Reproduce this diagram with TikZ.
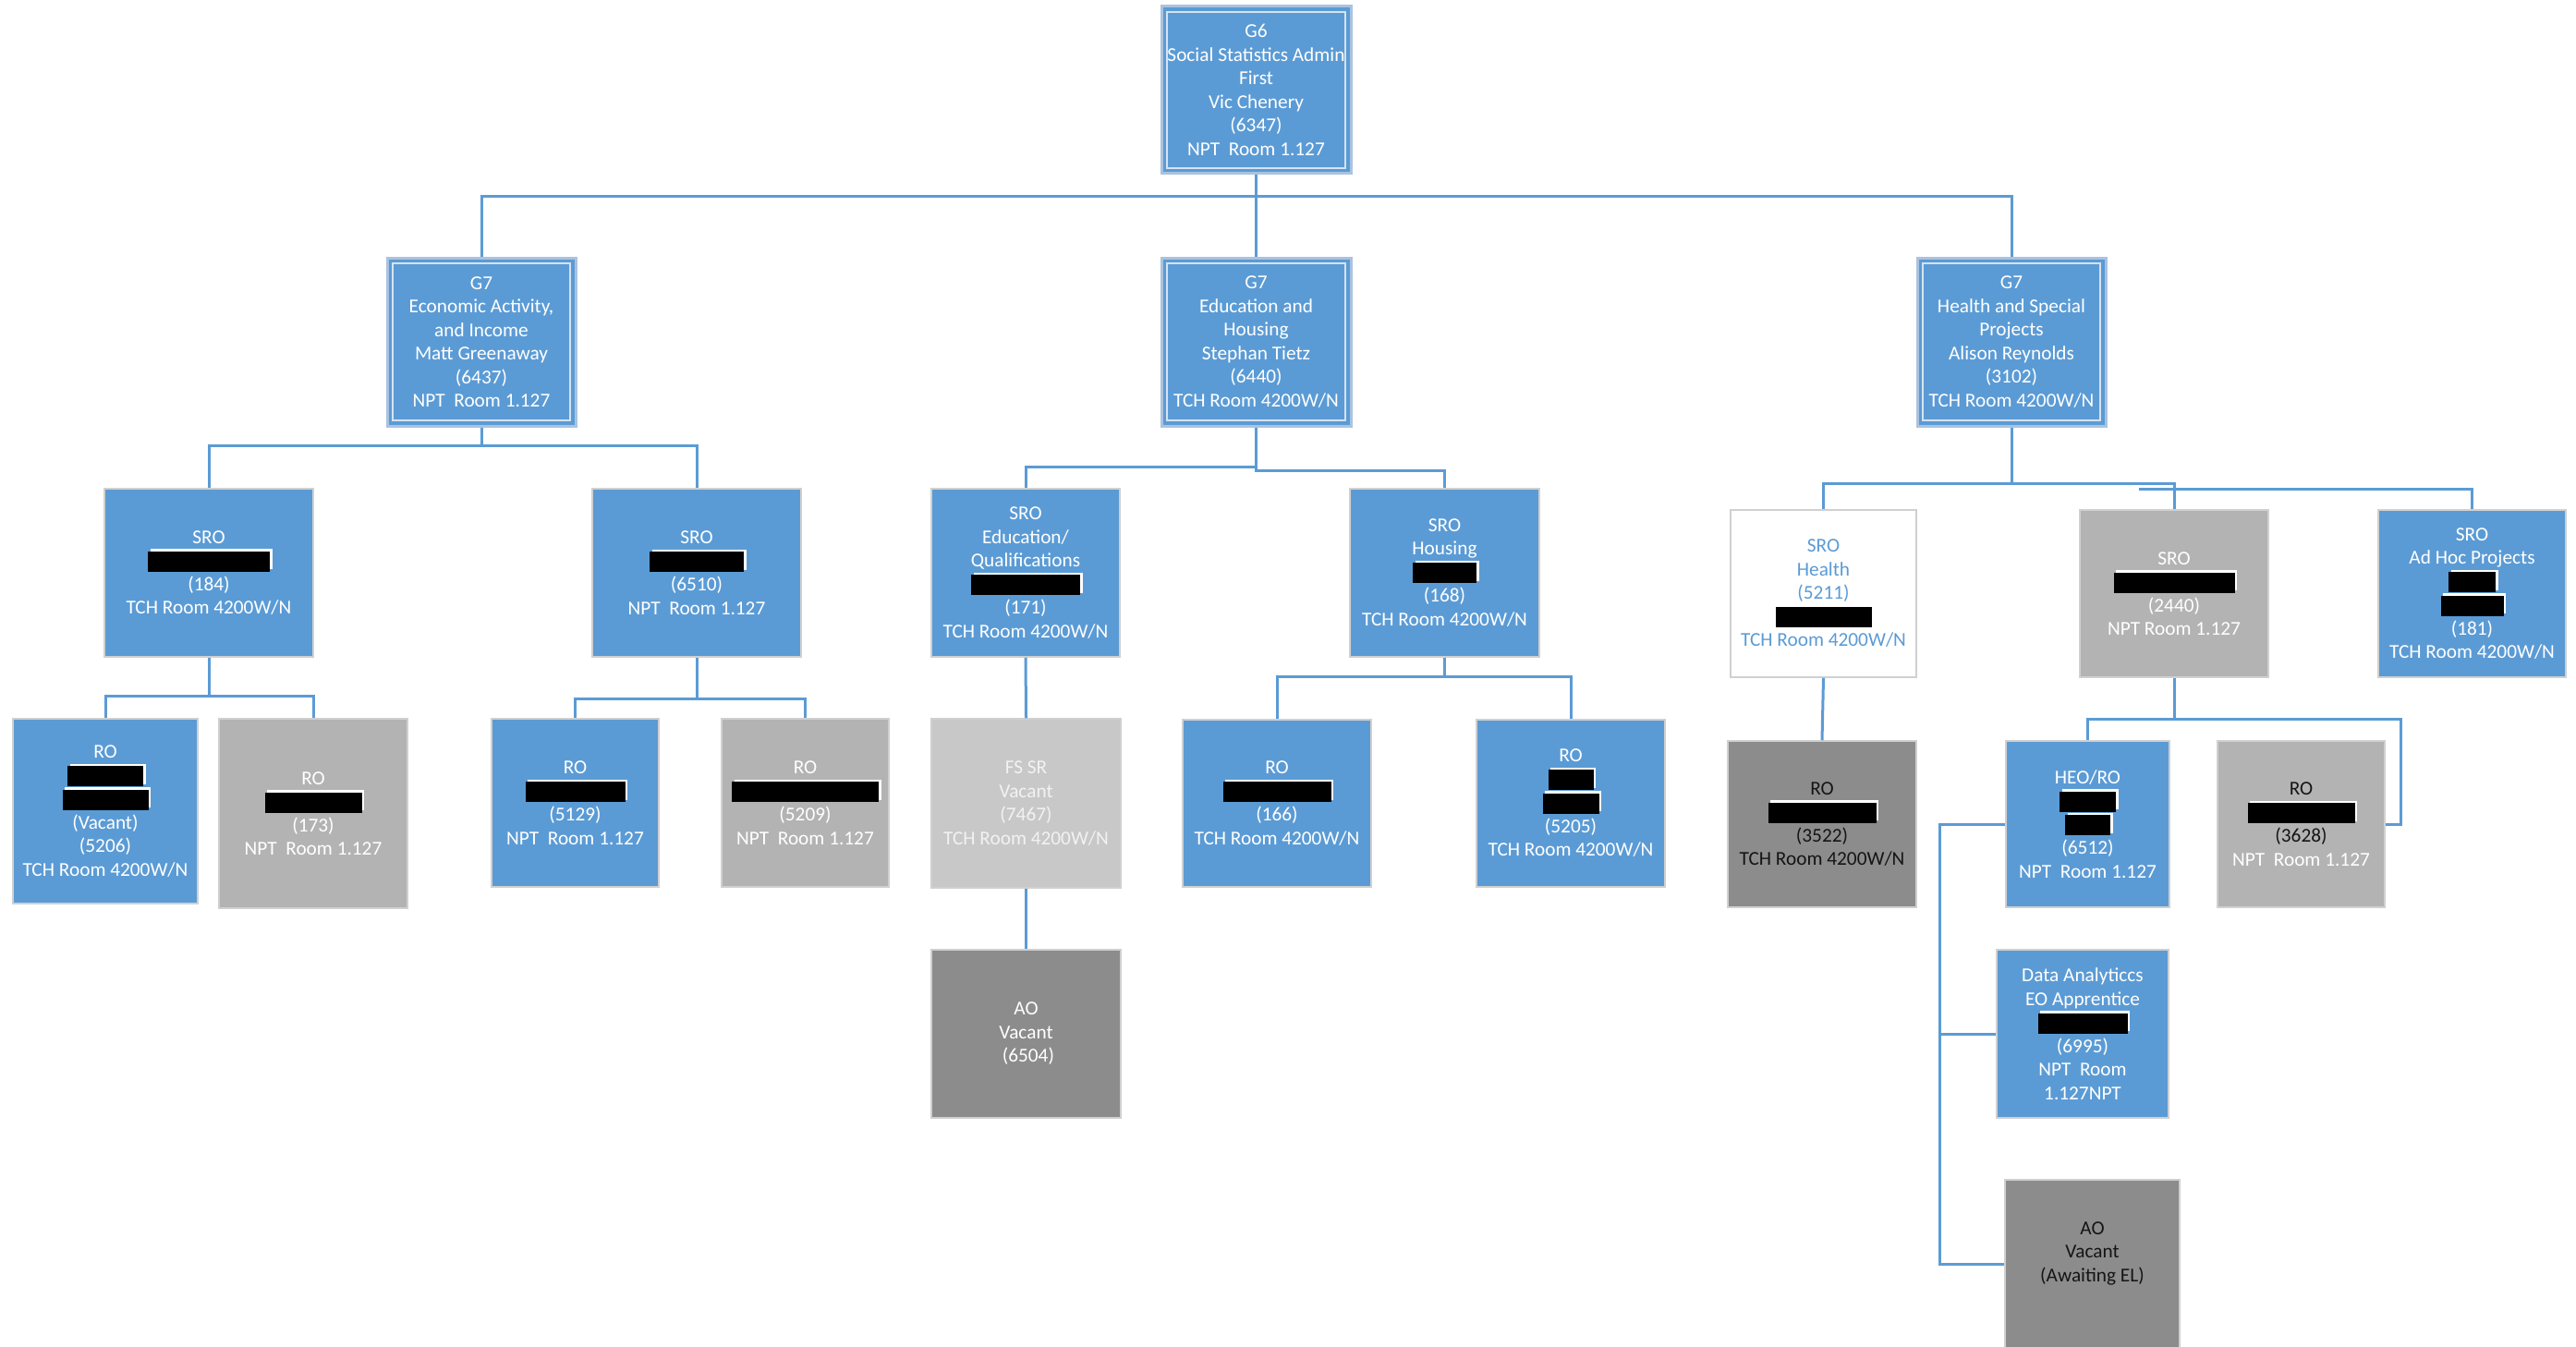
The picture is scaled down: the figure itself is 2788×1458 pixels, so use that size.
\documentclass[tikz,border=0pt]{standalone}
\usepackage{fontspec}
\setmainfont{Carlito}
\definecolor{boxblue}{HTML}{5B9BD5}
\definecolor{connblue}{HTML}{5B9BD5}
\definecolor{midgray}{HTML}{B3B3B3}
\definecolor{lightgray2}{HTML}{C8C8C8}
\definecolor{darkgray2}{HTML}{8C8C8C}
\definecolor{edgegray}{HTML}{D0D0D0}
\definecolor{gedge}{HTML}{A9C3E0}
\definecolor{ginner}{HTML}{D6E2EE}
\definecolor{darktext}{HTML}{151515}
\newcommand\redact[1]{\raisebox{-5pt}{\rlap{\kern2.5pt\raisebox{2.5pt}{\color{white}\rule{#1pt}{22pt}}}{\color{black}\rule{#1pt}{22pt}}}}
\begin{document}
\begin{tikzpicture}[x=1pt,y=-1pt,
  box/.style={rectangle, inner sep=0pt, align=center, font=\fontsize{21.3}{25.5}\selectfont, line width=1.5pt, draw=edgegray},
  sz/.style n args={2}{minimum width=#1pt, minimum height=#2pt},
  bluebox/.style={box, fill=boxblue, text=white},
  graybox/.style={box, fill=midgray, text=white},
  lgraybox/.style={box, fill=lightgray2, text=white!95!black},
  dgraybox/.style={box, fill=darkgray2, text=white},
  whitebox/.style={box, fill=white, text=boxblue},
  gbox/.style={box, fill=boxblue, text=white, draw=gedge, line width=3pt,
    path picture={\draw[ginner, line width=1.5pt]
      ([xshift=6pt,yshift=-6pt]path picture bounding box.north west) rectangle
      ([xshift=-6pt,yshift=6pt]path picture bounding box.south east);}},
  conn/.style={draw=connblue, line width=3pt}
]
\useasboundingbox (0,0) rectangle (2788,1458);
\fill[white] (0,0) rectangle (2788,1458);

% junction levels
\coordinate (j1) at (0,212);
\coordinate (j2a) at (0,482);
\coordinate (j2b) at (0,505);
\coordinate (j2c) at (0,509);
\coordinate (j2d) at (0,523);
\coordinate (adj) at (2315,529);
\coordinate (j3a) at (0,753);
\coordinate (j3b) at (0,756);
\coordinate (j3c) at (0,732);
\coordinate (k1) at (2598,778);
\coordinate (k2) at (2099,892);

% ---- nodes ----
\node[gbox, sz={205}{181}] (g6) at (1359.5,97.5)
  {G6\\Social Statistics Admin\\First\\Vic Chenery\\(6347)\\NPT~~Room 1.127};
\node[gbox, sz={204}{182}] (g7a) at (521,370)
  {G7\\Economic Activity,\\and Income\\Matt Greenaway\\(6437)\\NPT~~Room 1.127};
\node[gbox, sz={205}{182}] (g7b) at (1359.5,370)
  {G7\\Education and\\Housing\\Stephan Tietz\\(6440)\\TCH Room 4200W/N};
\node[gbox, sz={204}{182}] (g7c) at (2177,370)
  {G7\\Health and Special\\Projects\\Alison Reynolds\\(3102)\\TCH Room 4200W/N};

\node[bluebox, sz={226}{182}] (s184) at (226,620)
  {SRO\\\redact{132}\\(184)\\TCH Room 4200W/N};
\node[bluebox, sz={226}{182}] (s6510) at (754,620)
  {SRO\\\redact{102}\\(6510)\\NPT~~Room 1.127};
\node[bluebox, sz={204}{182}] (sedu) at (1110,620)
  {SRO\\Education/\\Qualifications\\\redact{118}\\(171)\\TCH Room 4200W/N};
\node[bluebox, sz={205}{182}] (shou) at (1563.5,620)
  {SRO\\Housing\\\redact{69}\\(168)\\TCH Room 4200W/N};
\node[whitebox, sz={201}{181}] (shealth) at (1973.5,642.5)
  {SRO\\Health\\(5211)\\\redact{104}\\TCH Room 4200W/N};
\node[graybox, sz={204}{181}] (s2440) at (2353,642.5)
  {SRO\\\redact{131}\\(2440)\\NPT Room 1.127};
\node[bluebox, sz={203}{181}] (sadhoc) at (2675.5,642.5)
  {SRO\\Ad Hoc Projects\\\redact{51}\\\redact{68}\\(181)\\TCH Room 4200W/N};

\node[bluebox, sz={200}{200}] (ro5206) at (114,878)
  {RO\\\redact{82}\\\redact{93}\\(Vacant)\\(5206)\\TCH Room 4200W/N};
\node[graybox, sz={204}{205}] (ro173) at (339,880.5)
  {RO\\\redact{105}\\(173)\\NPT~~Room 1.127};
\node[bluebox, sz={181}{182}] (ro5129) at (622.5,869)
  {RO\\\redact{108}\\(5129)\\NPT~~Room 1.127};
\node[graybox, sz={181}{182}] (ro5209) at (871.5,869)
  {RO\\\redact{159}\\(5209)\\NPT~~Room 1.127};
\node[lgraybox, sz={205}{183}] (fssr) at (1110.5,869.5)
  {FS SR\\Vacant\\(7467)\\TCH Room 4200W/N};
\node[dgraybox, sz={205}{182}] (ao6504) at (1110.5,1119)
  {AO\\Vacant\\~(6504)};
\node[bluebox, sz={204}{181}] (ro166) at (1382,869.5)
  {RO\\\redact{117}\\(166)\\TCH Room 4200W/N};
\node[bluebox, sz={204}{181}] (ro5205) at (1700,869.5)
  {RO\\\redact{49}\\\redact{61}\\(5205)\\TCH Room 4200W/N};

\node[dgraybox, text=darktext, sz={204}{180}] (ro3522) at (1972,892)
  {RO\\\redact{117}\\(3522)\\TCH Room 4200W/N};
\node[bluebox, sz={177}{180}] (heo) at (2259.5,892)
  {HEO/RO\\\redact{61}\\\redact{49}\\(6512)\\NPT~~Room 1.127};
\node[graybox, sz={181}{180}] (ro3628) at (2490.5,892)
  {\textcolor{darktext}{RO}\\\redact{116}\\\textcolor{darktext}{(3628)}\\NPT~~Room 1.127};
\node[bluebox, sz={186}{182}] (data) at (2254,1119)
  {Data Analyticcs\\EO Apprentice\\\redact{97}\\(6995)\\NPT~~Room\\1.127NPT};
\node[dgraybox, text=darktext, sz={189}{182}] (ao2) at (2264.5,1368)
  {AO\\Vacant\\(Awaiting EL)\\[1pt]\mbox{}};

% ---- connectors ----
\draw[conn] (g6.south) -- (g6.south |- j1) -| (g7a.north);
\draw[conn] (g6.south |- j1) -| (g7c.north);
\draw[conn] (g6.south) -- (g7b.north);

\draw[conn] (g7a.south) -- (g7a.south |- j2a) -| (s184.north);
\draw[conn] (g7a.south |- j2a) -| (s6510.north);

\draw[conn] (g7b.south) -- (g7b.south |- j2b) -| (sedu.north);
\draw[conn] (g7b.south |- j2b) -- (g7b.south |- j2c) -| (shou.north);

\draw[conn] (g7c.south) -- (g7c.south |- j2d) -| (shealth.north);
\draw[conn] (g7c.south |- j2d) -| (s2440.north);
\draw[conn] (adj) -| (sadhoc.north);

\draw[conn] (s184.south) -- (s184.south |- j3a) -| (ro5206.north);
\draw[conn] (s184.south |- j3a) -| (ro173.north);
\draw[conn] (s6510.south) -- (s6510.south |- j3b) -| (ro5129.north);
\draw[conn] (s6510.south |- j3b) -| (ro5209.north);

\draw[conn] (sedu.south) -- (fssr.north);
\draw[conn] (fssr.south) -- (ao6504.north);

\draw[conn] (shou.south) -- (shou.south |- j3c) -| (ro166.north);
\draw[conn] (shou.south |- j3c) -| (ro5205.north);

\draw[conn] (shealth.south) -- (ro3522.north);

\draw[conn] (s2440.south) |- (k1) |- (ro3628.east);
\draw[conn] (s2440.south |- k1) -| (heo.north);

\draw[conn] (heo.west) -- (k2) |- (data.west);
\draw[conn] (k2) |- (ao2.west);
\end{tikzpicture}
\end{document}
